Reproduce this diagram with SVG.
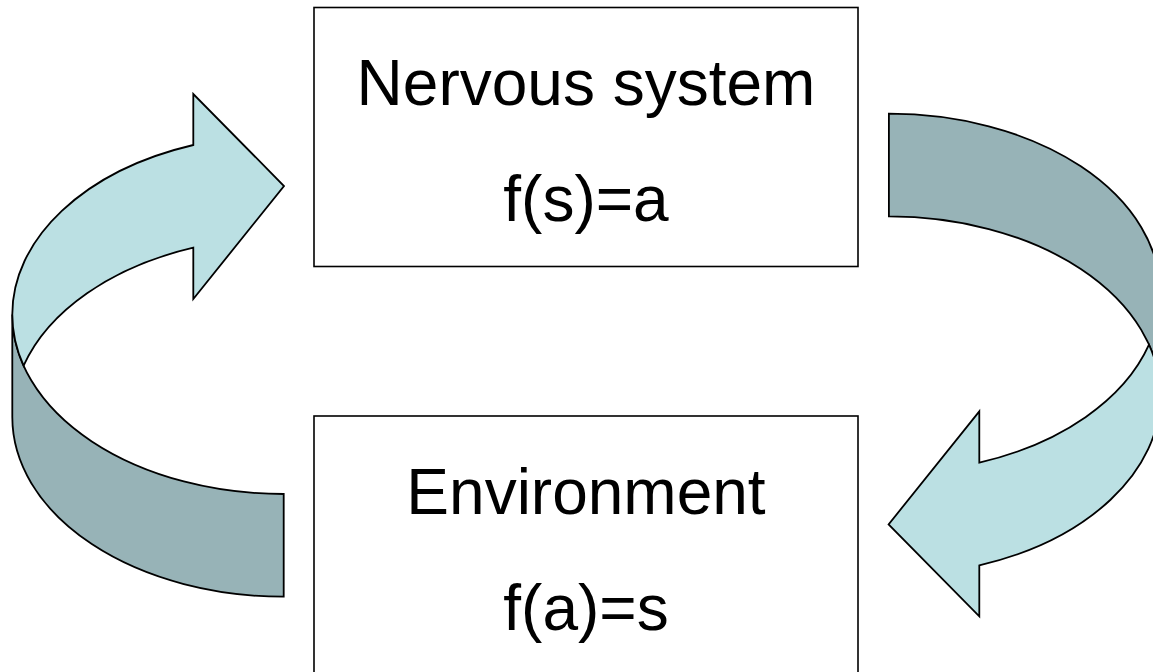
<svg xmlns="http://www.w3.org/2000/svg" width="1153" height="672" viewBox="0 0 1153 672">
<style>
.box{fill:#fff;stroke:#000;stroke-width:1.6}
.lbl{font-family:"Liberation Sans",Arial,sans-serif;font-size:64px;fill:#000;text-anchor:middle}
.light{fill:#BBE0E3;stroke:#000;stroke-width:1.8;stroke-linejoin:miter}
.dark{fill:#97B3B7;stroke:#000;stroke-width:1.8;stroke-linejoin:miter}
</style>
<defs>
<g id="curvedArrow">
<path class="dark" d="M12.3,314.4 L12.3,417.1 A271.4,179.6 0 0 0 283.7,596.7 L283.7,494 A271.4,179.6 0 0 1 12.3,314.4 Z"/>
<path class="light" d="M193.3,145 L193.3,94 L284,186 L193.3,299 L193.3,247.7 A271.4,179.6 0 0 0 23.6,365.7 A271.4,179.6 0 0 1 12.3,314.4 A271.4,179.6 0 0 1 193.3,145 Z"/>
</g>
</defs>
<rect width="1153" height="672" fill="#fff"/>
<g id="connectors">
<use id="arrow-env-to-ns" href="#curvedArrow"/>
<use id="arrow-ns-to-env" href="#curvedArrow" transform="rotate(180 586.3 355.2)"/>
</g>
<g id="node-nervous-system">
<rect class="box" x="314" y="7.5" width="544" height="259"/>
<text class="lbl" x="586" y="105">Nervous system</text>
<text class="lbl" x="586" y="221">f(s)=a</text>
</g>
<g id="node-environment">
<rect class="box" x="314" y="416" width="544" height="280"/>
<text class="lbl" x="586" y="514">Environment</text>
<text class="lbl" x="586" y="630">f(a)=s</text>
</g>
</svg>
